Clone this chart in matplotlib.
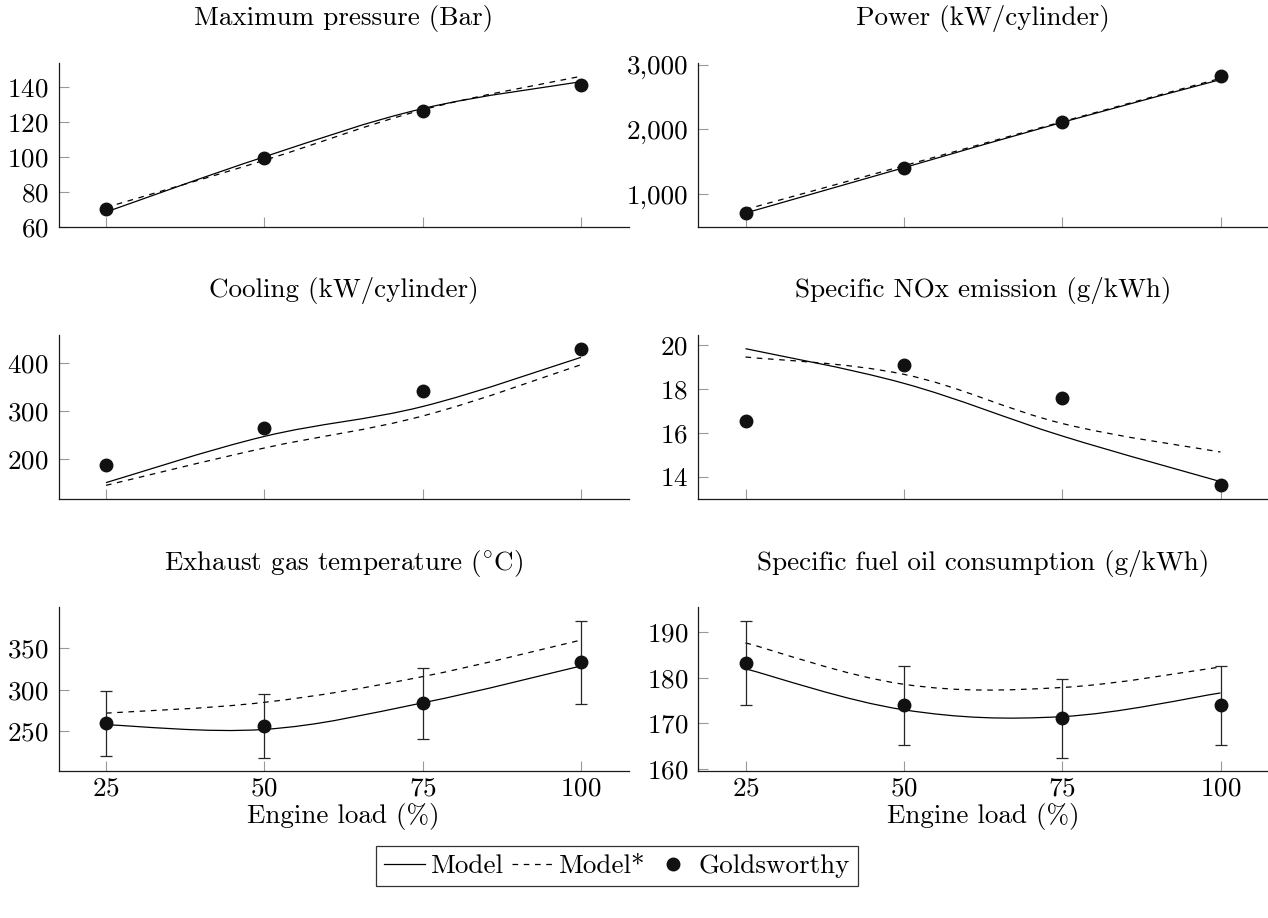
import numpy as np
import matplotlib as mpl; mpl.use('Agg')
import matplotlib.pyplot as plt
from matplotlib.path import Path
from matplotlib.patches import PathPatch
from matplotlib.lines import Line2D
from matplotlib.ticker import FuncFormatter

plt.rcParams['font.family'] = 'cmr10'
plt.rcParams['mathtext.fontset'] = 'cm'
plt.rcParams['axes.formatter.use_mathtext'] = True

# engine load points (%)
load = [25, 50, 75, 100]

# maximum pressure (bar)
pressure_model = [68.4, 100.0, 127.6, 143.0]
pressure_model_star = [71.0, 98.0, 126.9, 146.1]
pressure_gw = [70.1, 99.2, 126.1, 141.0]
pressure_ticks = [60, 80, 100, 120, 140]

# power (kW/cylinder)
power_model = [710, 1410, 2110, 2770]
power_model_star = [765, 1440, 2120, 2790]
power_gw = [710, 1410, 2120, 2820]
power_ticks = [1000, 2000, 3000]

# cooling (kW/cylinder)
cooling_model = [151.6, 247.6, 309.7, 411.8]
cooling_model_star = [146.0, 223.5, 290.0, 396.5]
cooling_gw = [189.0, 266.0, 341.5, 429.8]
cooling_ticks = [200, 300, 400]

# specific NOx emission (g/kWh)
nox_model = [19.83, 18.25, 15.85, 13.77]
nox_model_star = [19.45, 18.66, 16.42, 15.12]
nox_gw = [16.51, 19.10, 17.60, 13.60]
nox_ticks = [14, 16, 18, 20]

# exhaust gas temperature (deg C)
exhaust_model = [258.0, 252.4, 284.4, 328.8]
exhaust_model_star = [272.0, 285.0, 316.0, 360.0]
exhaust_gw = [259.6, 257.0, 284.0, 333.0]
exhaust_err = [38.9, 38.6, 42.6, 50.0]
exhaust_ticks = [250, 300, 350]

# specific fuel oil consumption (g/kWh)
sfoc_model = [182.0, 173.0, 171.5, 176.7]
sfoc_model_star = [187.7, 178.6, 177.9, 182.4]
sfoc_gw = [183.3, 174.0, 171.1, 174.0]
sfoc_err = [9.2, 8.7, 8.6, 8.7]
sfoc_ticks = [160, 170, 180, 190]

FS = 19.5
DASH = (0, (4.5, 4.5))


def smooth_path(x, y, k=0.18):
    """Cubic Bezier through the points, like pgfplots' smooth option."""
    p = np.column_stack([x, y]).astype(float)
    n = len(p)
    verts = [p[0]]
    codes = [Path.MOVETO]
    for i in range(n - 1):
        prev = p[i - 1] if i > 0 else p[i]
        nxt = p[i + 2] if i + 2 < n else p[i + 1]
        verts += [p[i] + k * (p[i + 1] - prev), p[i + 1] - k * (nxt - p[i]), p[i + 1]]
        codes += [Path.CURVE4] * 3
    return Path(verts, codes)


def draw_panel(ax, title, model, model_star, gw, ticks, err=None, fmt=None, xlabels=False):
    ax.add_patch(PathPatch(smooth_path(load, model), fill=False, ec='black', lw=0.9))
    ax.add_patch(PathPatch(smooth_path(load, model_star), fill=False, ec='black', lw=0.9,
                           ls=DASH))
    if err is not None:
        ax.errorbar(load, gw, yerr=err, fmt='none', ecolor='0.15', elinewidth=0.9,
                    capsize=4, capthick=0.9)
    ax.plot(load, gw, 'o', color='#111111', ms=9, zorder=5)

    # limits enlarged by 10% of the data range
    vals = np.concatenate([model, model_star, gw])
    if err is not None:
        vals = np.concatenate([vals, np.array(gw) + err, np.array(gw) - err])
    lo, hi = vals.min(), vals.max()
    pad = 0.1 * (hi - lo)
    ax.set_ylim(lo - pad, hi + pad)
    ax.set_xlim(17.5, 107.5)
    ax.set_xticks(load)
    ax.set_yticks(ticks)
    if fmt is not None:
        ax.yaxis.set_major_formatter(fmt)

    for s in ['top', 'right']:
        ax.spines[s].set_visible(False)
    for s in ['left', 'bottom']:
        ax.spines[s].set_linewidth(0.9)
        ax.spines[s].set_color('0.1')
    ax.tick_params(direction='in', length=7, width=0.8, color='0.6',
                   labelsize=FS, pad=7)
    ax.tick_params(axis='x', labelbottom=xlabels, pad=4)
    ax.set_title(title, fontsize=FS, pad=27)
    if xlabels:
        ax.set_xlabel('Engine load (%)', fontsize=FS, labelpad=2)


W, H = 1268, 918
fig = plt.figure(figsize=(W / 100, H / 100), dpi=100)

col_left = [58.5, 698]
row_top = [62.7, 335, 607.3]
ax_w, ax_h = 570, 164


def make_ax(r, c):
    return fig.add_axes([col_left[c] / W, 1 - (row_top[r] + ax_h) / H, ax_w / W, ax_h / H])


thousands = FuncFormatter(lambda v, _: f'{v:,.0f}')

draw_panel(make_ax(0, 0), 'Maximum pressure (Bar)',
           pressure_model, pressure_model_star, pressure_gw, pressure_ticks)
draw_panel(make_ax(0, 1), 'Power (kW/cylinder)',
           power_model, power_model_star, power_gw, power_ticks, fmt=thousands)
draw_panel(make_ax(1, 0), 'Cooling (kW/cylinder)',
           cooling_model, cooling_model_star, cooling_gw, cooling_ticks)
draw_panel(make_ax(1, 1), 'Specific NOx emission (g/kWh)',
           nox_model, nox_model_star, nox_gw, nox_ticks)
draw_panel(make_ax(2, 0), r'Exhaust gas temperature ($^{\circ}$C)',
           exhaust_model, exhaust_model_star, exhaust_gw, exhaust_ticks,
           err=exhaust_err, xlabels=True)
draw_panel(make_ax(2, 1), 'Specific fuel oil consumption (g/kWh)',
           sfoc_model, sfoc_model_star, sfoc_gw, sfoc_ticks,
           err=sfoc_err, xlabels=True)

handles = [
    Line2D([], [], color='black', lw=0.9),
    Line2D([], [], color='black', lw=0.9, ls=DASH),
    Line2D([], [], color='#111111', marker='o', ms=9, ls='none'),
]
leg = fig.legend(handles, ['Model', 'Model*', 'Goldsworthy'], loc='center',
                 bbox_to_anchor=(617 / W, 1 - 866 / H), ncol=3, fontsize=FS,
                 frameon=True, fancybox=False, edgecolor='black',
                 handlelength=1.5, handletextpad=0.2, columnspacing=0.3,
                 borderpad=0.3, borderaxespad=0)
leg.get_frame().set_linewidth(0.9)

fig.savefig('out.png', dpi=100)
